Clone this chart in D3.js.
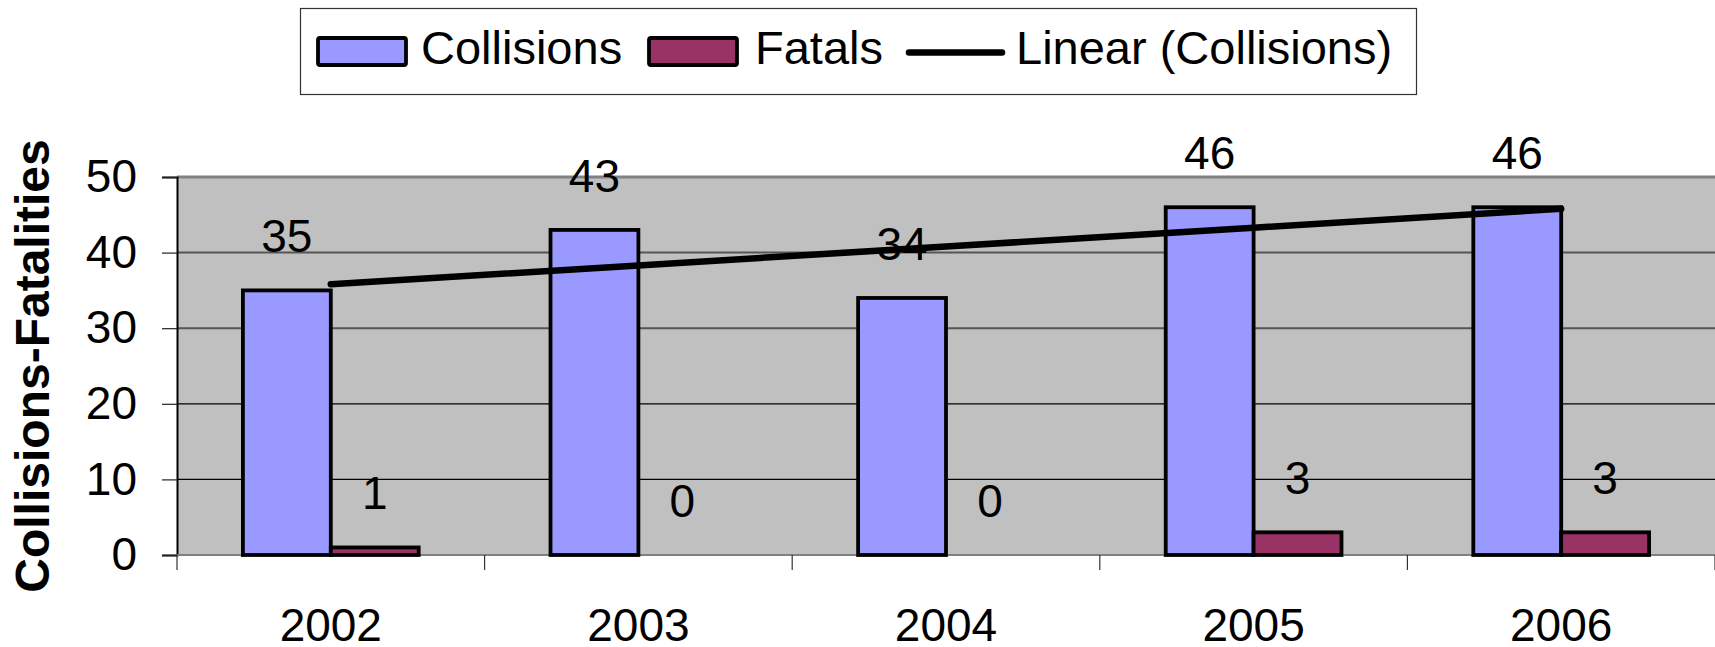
<!DOCTYPE html>
<html>
<head>
<meta charset="utf-8">
<script src="https://cdn.jsdelivr.net/npm/d3@7/dist/d3.min.js"></script>
<style>
  html, body { margin: 0; padding: 0; background: #fff; }
  svg { display: block; }
  text { font-family: "Liberation Sans", Arial, sans-serif; }
</style>
</head>
<body>
<svg id="chart" width="1715" height="647"></svg>
<script>
// ---- data ----
const years = ["2002", "2003", "2004", "2005", "2006"];
const collisions = [35, 43, 34, 46, 46];
const fatals = [1, 0, 0, 3, 3];
const seriesNames = ["Collisions", "Fatals"];
const yTicks = [0, 10, 20, 30, 40, 50];
const legendLabels = ["Collisions", "Fatals", "Linear (Collisions)"];
const yTitle = "Collisions-Fatalities";

const colors = { Collisions: "#9999FF", Fatals: "#993366" };

const W = 1715, H = 647;
const plot = { left: 177, right: 1715, top: 177, bottom: 555 };

const svg = d3.select("#chart");

const x0 = d3.scaleBand().domain(years).range([plot.left, plot.right]).paddingInner(0).paddingOuter(0);
const x1 = d3.scaleBand().domain(seriesNames).range([0, x0.bandwidth()]).paddingInner(0).paddingOuter(0.75);
const y = d3.scaleLinear().domain([0, 50]).range([plot.bottom, plot.top]);

// plot background
svg.append("rect")
  .attr("x", plot.left).attr("y", plot.top)
  .attr("width", plot.right - plot.left).attr("height", plot.bottom - plot.top)
  .attr("fill", "#C0C0C0");

// gridlines
svg.append("g").selectAll("line")
  .data(yTicks.filter(d => d > 0 && d < 50))
  .join("line")
  .attr("x1", plot.left).attr("x2", plot.right)
  .attr("y1", d => y(d)).attr("y2", d => y(d))
  .attr("stroke", d => d >= 30 ? "#555" : "#000")
  .attr("stroke-width", d => d >= 30 ? 2 : 1.2);

// top border
svg.append("line")
  .attr("x1", plot.left).attr("x2", plot.right)
  .attr("y1", y(50)).attr("y2", y(50))
  .attr("stroke", "#808080").attr("stroke-width", 3);

// y axis
const yAxis = d3.axisLeft(y).tickValues(yTicks).tickSize(15).tickPadding(25).tickFormat(d3.format("d"));
const gy = svg.append("g").attr("transform", `translate(${plot.left},0)`).call(yAxis);
gy.select(".domain").attr("stroke", "#000").attr("stroke-width", 2);
gy.selectAll(".tick line").attr("stroke", "#222").attr("stroke-width", 1.2);
gy.selectAll(".tick text")
  .attr("font-size", 46).attr("fill", "#000")
  .attr("font-family", "'Liberation Sans', Arial, sans-serif");

// x axis (ticks at category boundaries)
svg.append("line")
  .attr("x1", plot.left).attr("x2", plot.right)
  .attr("y1", plot.bottom).attr("y2", plot.bottom)
  .attr("stroke", "#808080").attr("stroke-width", 2);
const boundaries = years.map(d => x0(d)).concat([x0(years[years.length - 1]) + x0.bandwidth()]);
svg.append("g").selectAll("line")
  .data(boundaries)
  .join("line")
  .attr("x1", d => d).attr("x2", d => d)
  .attr("y1", plot.bottom).attr("y2", plot.bottom + 15)
  .attr("stroke", "#333").attr("stroke-width", 1.2);
svg.append("g").selectAll("text")
  .data(years)
  .join("text")
  .attr("x", d => x0(d) + x0.bandwidth() / 2)
  .attr("y", 641)
  .attr("text-anchor", "middle")
  .attr("font-size", 46)
  .text(d => d);

// bars
const rows = years.map((yr, i) => ({ year: yr, values: [
  { key: "Collisions", value: collisions[i] },
  { key: "Fatals", value: fatals[i] }
]}));

const groups = svg.append("g").selectAll("g")
  .data(rows)
  .join("g")
  .attr("transform", d => `translate(${x0(d.year)},0)`);

groups.selectAll("rect")
  .data(d => d.values.filter(v => v.value > 0))
  .join("rect")
  .attr("x", d => x1(d.key))
  .attr("y", d => y(d.value))
  .attr("width", x1.bandwidth())
  .attr("height", d => y(0) - y(d.value))
  .attr("fill", d => colors[d.key])
  .attr("stroke", "#000")
  .attr("stroke-width", 3.8);

// linear trend line for collisions (least-squares fit)
const xs = years.map((d, i) => i + 1);
const mx = d3.mean(xs), my = d3.mean(collisions);
const slope = d3.sum(xs.map((xv, i) => (xv - mx) * (collisions[i] - my))) / d3.sum(xs.map(xv => (xv - mx) ** 2));
const intercept = my - slope * mx;
const trend = years.map((yr, i) => ({ x: x0(yr) + x0.bandwidth() / 2, v: intercept + slope * xs[i] }));
svg.append("path")
  .datum(trend)
  .attr("d", d3.line().x(d => d.x).y(d => y(d.v)))
  .attr("fill", "none")
  .attr("stroke", "#000")
  .attr("stroke-width", 6.5)
  .attr("stroke-linecap", "round");

// data labels
groups.selectAll("text")
  .data(d => d.values)
  .join("text")
  .attr("x", d => x1(d.key) + x1.bandwidth() / 2)
  .attr("y", d => y(d.value) - 38)
  .attr("text-anchor", "middle")
  .attr("font-size", 46)
  .text(d => d.value);

// y title
svg.append("text")
  .attr("transform", `translate(49,${(plot.top + plot.bottom) / 2}) rotate(-90)`)
  .attr("text-anchor", "middle")
  .attr("font-size", 48)
  .attr("font-weight", "bold")
  .text(yTitle);

// legend
const lg = svg.append("g");
lg.append("rect")
  .attr("x", 300.5).attr("y", 8.5).attr("width", 1116).attr("height", 86)
  .attr("fill", "#fff").attr("stroke", "#333").attr("stroke-width", 1.2);

const legendItems = [
  { type: "rect", color: colors.Collisions, sx: 318, tx: 421, label: legendLabels[0] },
  { type: "rect", color: colors.Fatals, sx: 649, tx: 755, label: legendLabels[1] },
  { type: "line", color: "#000", sx: 909, tx: 1016, label: legendLabels[2] }
];
legendItems.forEach(it => {
  if (it.type === "rect") {
    lg.append("rect")
      .attr("x", it.sx).attr("y", 38).attr("width", 88).attr("height", 27)
      .attr("rx", 2)
      .attr("fill", it.color).attr("stroke", "#000").attr("stroke-width", 3.8);
  } else {
    lg.append("line")
      .attr("x1", it.sx).attr("x2", it.sx + 93)
      .attr("y1", 52.5).attr("y2", 52.5)
      .attr("stroke", it.color).attr("stroke-width", 6.5).attr("stroke-linecap", "round");
  }
  lg.append("text")
    .attr("x", it.tx).attr("y", 64)
    .attr("font-size", 47)
    .text(it.label);
});
</script>
</body>
</html>
